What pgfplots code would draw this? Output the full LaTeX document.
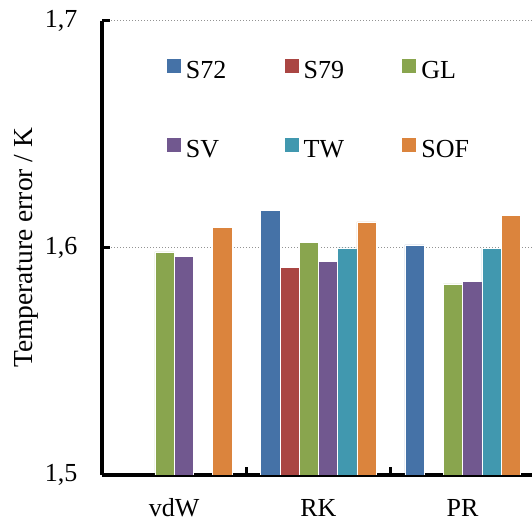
\documentclass[border=0pt]{standalone}
\usepackage{pgfplots}
\pgfplotsset{compat=1.18}
\usepackage{fontspec}
\setmainfont{Liberation Serif}
\definecolor{cA}{HTML}{4572A7}
\definecolor{cB}{HTML}{AA4643}
\definecolor{cC}{HTML}{89A54E}
\definecolor{cD}{HTML}{71588F}
\definecolor{cE}{HTML}{4198AF}
\definecolor{cF}{HTML}{DB843D}
\newcommand{\fs}{\fontsize{26bp}{31bp}\selectfont}
\pgfplotsset{sqlegend/.style={legend image code/.code={\path[##1,draw=none] (0bp,-2.5bp) rectangle (14bp,11.5bp);}}}
\begin{document}
\begin{tikzpicture}
\begin{axis}[
  at={(102bp,47bp)}, anchor=south west,
  width=430bp, height=454.3bp, scale only axis,
  xmin=-0.5, xmax=2.481, ymin=1.5, ymax=1.7,
  axis x line*=bottom, axis y line*=left,
  axis line style={line width=3bp, black},
  ybar=0pt, bar width=0.1334,
  every axis plot post/.append style={sqlegend},
  xtick={-0.5,0.5,1.5}, xticklabels={vdW,RK,PR},
  ytick={1.5,1.6,1.7},
  tick align=inside,
  major tick length=7.5bp,
  every tick/.style={line width=2.7bp, draw=black},
  ymajorgrids,
  major grid style={draw=gray!85, line width=1bp, dash pattern=on 1bp off 2bp},
  /pgf/number format/assume math mode=true,
  yticklabel style={/pgf/number format/fixed, /pgf/number format/fixed zerofill, /pgf/number format/precision=1, /pgf/number format/use comma},
  every tick label/.append style={font=\fs},
  yticklabel style={anchor=east, inner sep=0pt, xshift=-24.5bp},
  xticklabel style={anchor=north, inner sep=0pt, xshift=72.15bp, yshift=-23bp, text height=18bp, text depth=0pt},
  ylabel={Temperature error / K},
  every axis y label/.style={at={(axis description cs:-0.175,0.5)}, rotate=90, anchor=center, font=\fontsize{27.5bp}{32bp}\selectfont},
  legend columns=3,
  legend style={draw=none, fill=none, inner sep=0pt, at={(0.1505,0.917)}, anchor=north west, font=\fs, row sep=58bp,
    nodes={inner sep=0pt},
    /tikz/every odd column/.append style={column sep=5bp},
    /tikz/every even column/.append style={column sep=48.7bp, text width=50bp, align=left, text height=18bp, text depth=6bp}},
]
\addplot[fill=cA, draw=white, line width=0.6bp] coordinates {(1,1.6164) (2,1.6013)};
\addplot[fill=cB, draw=white, line width=0.6bp] coordinates {(1,1.5915)};
\addplot[fill=cC, draw=white, line width=0.6bp] coordinates {(0,1.5982) (1,1.6025) (2,1.5841)};
\addplot[fill=cD, draw=white, line width=0.6bp] coordinates {(0,1.5963) (1,1.5940) (2,1.5851)};
\addplot[fill=cE, draw=white, line width=0.6bp] coordinates {(1,1.6000) (2,1.5999)};
\addplot[fill=cF, draw=white, line width=0.6bp] coordinates {(0,1.6089) (1,1.6114) (2,1.6143)};
\legend{S72,S79,GL,SV,TW,SOF}
\draw[line width=2.7bp, black] (axis cs:0.5,1.5) -- ++(0pt,7.5bp);
\draw[line width=2.7bp, black] (axis cs:1.5,1.5) -- ++(0pt,7.5bp);
\draw[line width=2.7bp, black] (axis cs:-0.5,1.6) -- ++(7.5bp,0pt);
\draw[line width=2.7bp, black] (axis cs:-0.5,1.7) -- ++(7.5bp,0pt);
\end{axis}
\pgfresetboundingbox
\useasboundingbox (0,0) rectangle (532bp,522bp);
\end{tikzpicture}
\end{document}
